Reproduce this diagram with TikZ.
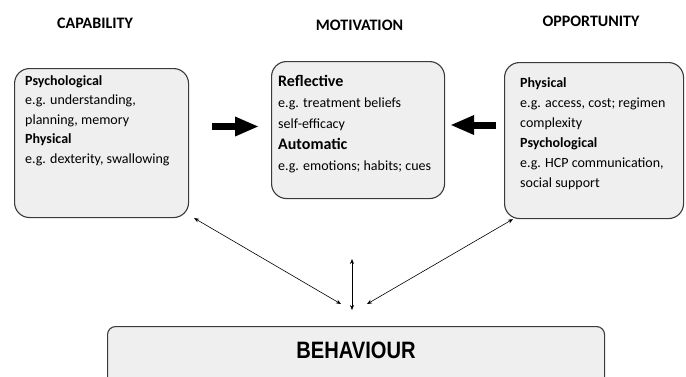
\documentclass[tikz,border=0pt]{standalone}
\usepackage{fontspec}
\setmainfont{Carlito}
\newfontfamily\behfont{Liberation Sans}
\usetikzlibrary{arrows.meta}
\definecolor{boxfill}{HTML}{EFEFEF}
\definecolor{boxline}{HTML}{3A3A3A}
\begin{document}
\begin{tikzpicture}[x=1pt,y=-1pt,
  cbox/.style={draw=boxline, line width=1.1pt, fill=boxfill, rounded corners=15pt, inner sep=0pt, anchor=north west},
  titletext/.style={font=\fontsize{16}{19}\selectfont\bfseries, inner sep=0pt},
  bodytext/.style={align=left, inner sep=0pt, anchor=north west},
  bigarrow/.style={line width=7pt, -{Triangle[length=24pt,width=18pt]}},
  thinarrow/.style={line width=0.6pt, {Stealth[length=5pt,width=4pt]}-{Stealth[length=5pt,width=4pt]}}]
\useasboundingbox (0,0) rectangle (686,376);
\fill[white] (0,0) rectangle (686,376);
\clip (0,0) rectangle (686,376);

% titles
\node[titletext] (tcap) at (95,23) {CAPABILITY};
\node[titletext] (tmot) at (359.5,25) {MOTIVATION};
\node[titletext] (topp) at (591,21) {OPPORTUNITY};

% boxes
\node[cbox, minimum width=174pt, minimum height=149pt] (cap) at (14,68) {};
\node[cbox, minimum width=173pt, minimum height=137pt] (mot) at (271,61) {};
\node[cbox, minimum width=179pt, minimum height=156pt] (opp) at (504,62) {};
\node[cbox, rounded corners=8pt, minimum width=497pt, minimum height=64pt,
      font=\behfont\bfseries\fontsize{23.7}{26}\selectfont, text height=17pt, text depth=17pt]
      (beh) at (107,326) {\scalebox{0.85}[1]{BEHAVIOUR}};

% box texts
\node[bodytext, font=\fontsize{14}{19.5}\selectfont] (captext) at (25,75)
  {\textbf{Psychological}\\e.g. understanding,\\planning, memory\\\textbf{Physical}\\e.g. dexterity, swallowing};
\node[bodytext, font=\fontsize{14}{21}\selectfont] (mottext) at (278,75.5)
  {{\fontsize{16}{21}\selectfont\bfseries Reflective}\\e.g. treatment beliefs\\self-efficacy\\{\fontsize{16}{21}\selectfont\bfseries Automatic}\\e.g. emotions; habits; cues};
\node[bodytext, font=\fontsize{14}{20}\selectfont] (opptext) at (520,77)
  {\textbf{Physical}\\e.g. access, cost; regimen\\complexity\\\textbf{Psychological}\\e.g. HCP communication,\\social support};

% thick arrows
\coordinate (ay1) at (0,126.5);
\coordinate (ay2) at (0,125);
\draw[bigarrow, shorten <=23pt, shorten >=12pt] (cap.east |- ay1) -- (mot.west |- ay1);
\draw[bigarrow, shorten <=8pt, shorten >=5pt] (opp.west |- ay2) -- (mot.east |- ay2);

% thin arrows
\coordinate (l1) at (341,304);
\coordinate (r1) at (367,304);
\coordinate (vt) at (352,259);
\coordinate (vb) at (352,310);
\draw[thinarrow] ([xshift=5pt]cap.south east) -- (l1);
\draw[thinarrow] ([xshift=9pt]opp.south west) -- (r1);
\draw[thinarrow] (vt) -- (vb);
\end{tikzpicture}
\end{document}
